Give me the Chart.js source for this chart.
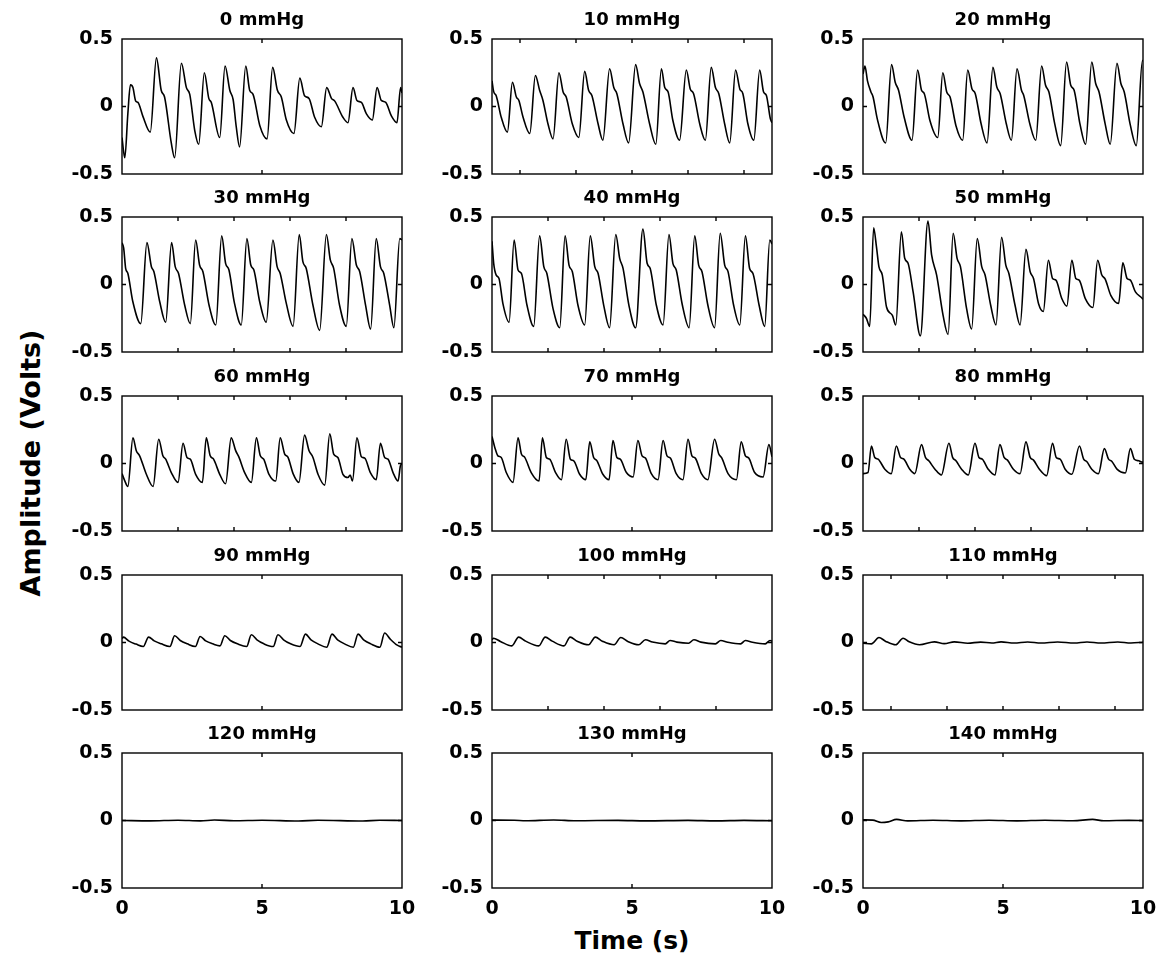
<!DOCTYPE html>
<html>
<head>
<meta charset="utf-8">
<script src="https://cdn.jsdelivr.net/npm/chart.js@4.4.0/dist/chart.umd.min.js"></script>
<style>
  body { margin: 0; background: #fff; width: 1158px; height: 958px; position: relative; overflow: hidden; font-family: "DejaVu Sans", sans-serif; }
  .panel { position: absolute; }
  #ylab { position: absolute; left: 30px; top: 463px; transform: translate(-50%, -50%) rotate(-90deg); font-weight: bold; font-size: 27px; white-space: nowrap; }
  #xlab { position: absolute; left: 632px; top: 940px; transform: translate(-50%, -50%); font-weight: bold; font-size: 25px; white-space: nowrap; }
</style>
</head>
<body>
<div id="ylab">Amplitude (Volts)</div>
<div id="xlab">Time (s)</div>
<script>
// cuff pressure of each panel (mmHg)
const pressures = [0, 10, 20, 30, 40, 50, 60, 70, 80, 90, 100, 110, 120, 130, 140];
const yTicks = [-0.5, 0, 0.5];
const xTickLabels = [0, 5, 10];
// inner tick marks along time axis, per panel
const innerTicks = [
  [5], [1, 3, 5, 7, 9], [5],
  [2, 4, 6, 8], [2, 4, 6, 8], [2, 4, 6, 8],
  [2, 4, 6, 8], [5], [2, 4, 6, 8],
  [5], [2, 4, 6, 8], [1, 3, 5, 7, 9],
  [5], [5], [5]
];

// [time s, volts]
const p0 = [[0,-0.23],[0.1,-0.38],[0.21,-0.05],[0.3,0.16],[0.39,0.14],[0.49,0.04],[0.57,0.03],[0.75,-0.075],[1.01,-0.19],
  [1.23,0.36],[1.4,0.12],[1.52,0.07],[1.76,-0.27],[1.88,-0.38],
  [2.12,0.32],[2.3,0.14],[2.42,0.09],[2.6,-0.18],[2.74,-0.28],
  [2.94,0.25],[3.1,0.06],[3.19,0.03],[3.49,-0.23],
  [3.68,0.3],[3.85,0.12],[3.97,0.05],[4.08,-0.15],[4.2,-0.3],
  [4.42,0.3],[4.56,0.12],[4.68,0.09],[4.92,-0.14],[5.18,-0.24],
  [5.38,0.29],[5.55,0.12],[5.69,0.07],[5.87,-0.1],[6.14,-0.2],
  [6.35,0.21],[6.52,0.08],[6.68,0.06],[6.88,-0.08],[7.12,-0.15],
  [7.31,0.14],[7.48,0.06],[7.6,0.04],[7.89,-0.08],[8.07,-0.12],
  [8.25,0.14],[8.39,0.045],[8.55,0.03],[8.73,-0.055],[8.94,-0.1],
  [9.11,0.14],[9.26,0.045],[9.42,0.03],[9.62,-0.07],[9.82,-0.12],[9.95,0.14],[10,0.1]];
const p10 = [[0,0.19],[0.06,0.11],[0.15,0.08],[0.33,-0.08],[0.55,-0.19],
  [0.73,0.18],[0.87,0.07],[0.96,0.045],[1.11,-0.08],[1.35,-0.2],
  [1.55,0.23],[1.7,0.12],[1.82,0.045],[2.0,-0.13],[2.18,-0.24],
  [2.39,0.25],[2.54,0.107],[2.65,0.07],[2.87,-0.13],[3.1,-0.23],
  [3.31,0.26],[3.45,0.12],[3.57,0.08],[3.79,-0.13],[3.96,-0.25],
  [4.2,0.28],[4.35,0.14],[4.46,0.095],[4.68,-0.13],[4.88,-0.27],
  [5.13,0.31],[5.27,0.17],[5.39,0.107],[5.63,-0.13],[5.85,-0.28],
  [6.05,0.28],[6.17,0.14],[6.29,0.107],[6.46,-0.104],[6.7,-0.25],
  [6.94,0.27],[7.08,0.13],[7.2,0.095],[7.42,-0.13],[7.62,-0.25],
  [7.83,0.29],[7.98,0.14],[8.1,0.095],[8.31,-0.13],[8.49,-0.27],
  [8.7,0.27],[8.85,0.13],[8.96,0.095],[9.14,-0.13],[9.35,-0.25],
  [9.56,0.27],[9.7,0.107],[9.8,0.082],[9.94,-0.09],[10,-0.12]];
const p20 = [[0,0.24],[0.07,0.3],[0.16,0.19],[0.28,0.11],[0.36,0.07],[0.51,-0.092],[0.81,-0.27],
  [1.02,0.31],[1.15,0.18],[1.27,0.12],[1.47,-0.08],[1.75,-0.25],
  [1.95,0.27],[2.09,0.12],[2.19,0.095],[2.39,-0.104],[2.67,-0.23],
  [2.85,0.25],[2.99,0.107],[3.11,0.07],[3.32,-0.142],[3.56,-0.25],
  [3.74,0.27],[3.89,0.132],[4.01,0.095],[4.22,-0.13],[4.43,-0.27],
  [4.64,0.29],[4.78,0.144],[4.9,0.095],[5.12,-0.13],[5.3,-0.25],
  [5.5,0.28],[5.66,0.12],[5.74,0.082],[5.96,-0.13],[6.17,-0.25],
  [6.38,0.3],[6.52,0.157],[6.64,0.107],[6.85,-0.13],[7.06,-0.29],
  [7.27,0.33],[7.42,0.157],[7.54,0.12],[7.75,-0.13],[7.95,-0.28],
  [8.17,0.33],[8.31,0.17],[8.43,0.107],[8.65,-0.13],[8.83,-0.28],
  [9.07,0.32],[9.21,0.17],[9.33,0.107],[9.55,-0.14],[9.76,-0.29],[9.98,0.34],[10,0.34]];
const p30 = [[0,0.31],[0.06,0.27],[0.13,0.12],[0.21,0.082],[0.39,-0.13],[0.67,-0.29],
  [0.89,0.31],[1.05,0.132],[1.14,0.095],[1.35,-0.13],[1.56,-0.28],
  [1.77,0.31],[1.9,0.132],[2.02,0.082],[2.24,-0.154],[2.44,-0.29],
  [2.63,0.33],[2.77,0.144],[2.89,0.095],[3.11,-0.154],[3.35,-0.3],
  [3.56,0.36],[3.7,0.157],[3.82,0.107],[4.02,-0.142],[4.26,-0.3],
  [4.46,0.34],[4.6,0.144],[4.71,0.107],[4.92,-0.13],[5.15,-0.28],
  [5.39,0.33],[5.54,0.132],[5.65,0.082],[5.87,-0.142],[6.11,-0.31],
  [6.33,0.37],[6.46,0.169],[6.58,0.119],[6.82,-0.154],[7.06,-0.34],
  [7.3,0.37],[7.44,0.182],[7.56,0.119],[7.77,-0.154],[8.01,-0.31],
  [8.21,0.34],[8.37,0.144],[8.49,0.095],[8.7,-0.154],[8.88,-0.33],
  [9.08,0.34],[9.23,0.132],[9.35,0.082],[9.56,-0.154],[9.71,-0.32],[9.92,0.34],[10,0.33]];
const p40 = [[0,0.32],[0.06,0.157],[0.15,0.07],[0.25,0.045],[0.39,-0.142],[0.61,-0.28],
  [0.79,0.33],[0.93,0.107],[1.05,0.082],[1.25,-0.154],[1.49,-0.31],
  [1.7,0.36],[1.85,0.132],[1.96,0.082],[2.18,-0.179],[2.42,-0.32],
  [2.61,0.36],[2.75,0.144],[2.87,0.095],[3.07,-0.154],[3.31,-0.3],
  [3.51,0.36],[3.67,0.132],[3.79,0.082],[3.99,-0.154],[4.2,-0.32],
  [4.42,0.37],[4.56,0.194],[4.68,0.119],[4.89,-0.154],[5.13,-0.32],
  [5.39,0.41],[5.54,0.157],[5.65,0.119],[5.87,-0.154],[6.11,-0.3],
  [6.32,0.37],[6.46,0.157],[6.58,0.107],[6.8,-0.154],[7.04,-0.32],
  [7.24,0.36],[7.38,0.144],[7.5,0.095],[7.71,-0.154],[7.95,-0.32],
  [8.15,0.38],[8.31,0.144],[8.43,0.095],[8.63,-0.154],[8.85,-0.3],
  [9.05,0.36],[9.2,0.119],[9.32,0.082],[9.54,-0.154],[9.74,-0.31],[9.92,0.33],[10,0.3]];
const p50 = [[0,-0.22],[0.12,-0.25],[0.24,-0.31],[0.38,0.42],[0.48,0.28],[0.57,0.13],[0.69,0.07],[0.84,-0.167],[1.05,-0.229],[1.17,-0.3],
  [1.37,0.39],[1.49,0.194],[1.61,0.157],[1.79,-0.055],[2.05,-0.38],
  [2.32,0.47],[2.45,0.219],[2.63,0.07],[2.86,-0.229],[3.04,-0.37],
  [3.22,0.38],[3.36,0.194],[3.48,0.132],[3.7,-0.179],[3.88,-0.33],
  [4.08,0.34],[4.24,0.132],[4.36,0.07],[4.56,-0.154],[4.75,-0.3],
  [4.95,0.35],[5.1,0.144],[5.21,0.082],[5.43,-0.154],[5.61,-0.3],
  [5.82,0.26],[5.97,0.095],[6.09,0.045],[6.27,-0.142],[6.44,-0.2],
  [6.62,0.18],[6.77,0.045],[6.89,0.032],[7.1,-0.104],[7.28,-0.16],
  [7.46,0.18],[7.6,0.045],[7.72,0.032],[7.94,-0.104],[8.21,-0.17],
  [8.38,0.18],[8.53,0.07],[8.65,0.04],[8.85,-0.08],[9.13,-0.14],
  [9.28,0.16],[9.43,0.045],[9.55,0.032],[9.73,-0.055],[9.96,-0.1],[10,-0.11]];
const p60 = [[0,-0.075],[0.1,-0.129],[0.21,-0.17],[0.39,0.19],[0.51,0.095],[0.63,0.057],[0.87,-0.08],[1.11,-0.17],
  [1.31,0.18],[1.46,0.057],[1.56,0.032],[1.76,-0.067],[2.0,-0.14],
  [2.18,0.15],[2.32,0.045],[2.44,0.032],[2.63,-0.08],[2.87,-0.14],
  [3.01,0.19],[3.15,0.057],[3.27,0.032],[3.49,-0.08],[3.7,-0.15],
  [3.9,0.19],[4.06,0.095],[4.18,0.045],[4.38,-0.067],[4.62,-0.14],
  [4.8,0.19],[4.94,0.057],[5.06,0.032],[5.25,-0.08],[5.49,-0.13],
  [5.65,0.19],[5.81,0.07],[5.93,0.045],[6.11,-0.075],[6.32,-0.14],
  [6.52,0.21],[6.68,0.095],[6.82,0.045],[7.0,-0.08],[7.24,-0.16],
  [7.42,0.22],[7.56,0.07],[7.71,0.045],[7.89,-0.08],[8.07,-0.104],[8.15,-0.085],[8.23,-0.13],
  [8.39,0.19],[8.55,0.05],[8.67,0.04],[8.87,-0.067],[9.08,-0.12],
  [9.23,0.15],[9.38,0.045],[9.5,0.032],[9.68,-0.067],[9.86,-0.13],[9.94,-0.02],[10,0.0]];
const p70 = [[0,0.2],[0.1,0.119],[0.21,0.057],[0.33,0.045],[0.51,-0.067],[0.75,-0.14],
  [0.93,0.19],[1.05,0.07],[1.17,0.045],[1.4,-0.067],[1.68,-0.13],
  [1.8,0.19],[1.94,0.045],[2.06,0.032],[2.27,-0.067],[2.48,-0.12],
  [2.65,0.18],[2.8,0.032],[2.92,0.02],[3.13,-0.08],[3.35,-0.12],
  [3.49,0.16],[3.63,0.045],[3.75,0.02],[3.96,-0.08],[4.18,-0.12],
  [4.32,0.17],[4.46,0.045],[4.58,0.032],[4.8,-0.067],[5.04,-0.1],
  [5.21,0.17],[5.36,0.057],[5.48,0.04],[5.69,-0.075],[5.93,-0.12],
  [6.11,0.17],[6.25,0.057],[6.37,0.04],[6.58,-0.075],[6.82,-0.12],
  [7.0,0.18],[7.14,0.057],[7.26,0.04],[7.48,-0.075],[7.71,-0.12],
  [7.95,0.18],[8.1,0.07],[8.21,0.04],[8.43,-0.075],[8.73,-0.12],
  [8.9,0.16],[9.05,0.057],[9.17,0.04],[9.38,-0.067],[9.68,-0.1],[9.89,0.14],[10,0.05]];
const p80 = [[0,-0.075],[0.18,-0.067],[0.3,0.13],[0.42,0.045],[0.54,0.032],[0.78,-0.042],[1.01,-0.075],
  [1.19,0.13],[1.34,0.045],[1.46,0.032],[1.67,-0.042],[1.85,-0.075],
  [2.09,0.14],[2.23,0.045],[2.35,0.02],[2.57,-0.042],[2.8,-0.085],
  [3.07,0.15],[3.2,0.045],[3.32,0.02],[3.52,-0.042],[3.76,-0.085],
  [4.0,0.15],[4.14,0.045],[4.26,0.032],[4.47,-0.042],[4.71,-0.085],
  [4.89,0.14],[5.04,0.045],[5.16,0.025],[5.37,-0.042],[5.61,-0.075],
  [5.82,0.16],[5.97,0.045],[6.09,0.025],[6.3,-0.042],[6.56,-0.09],
  [6.77,0.15],[6.9,0.045],[7.04,0.032],[7.22,-0.042],[7.46,-0.08],
  [7.73,0.13],[7.88,0.032],[7.99,0.015],[8.17,-0.042],[8.41,-0.075],
  [8.62,0.11],[8.77,0.032],[8.89,0.015],[9.07,-0.042],[9.37,-0.07],
  [9.55,0.11],[9.69,0.032],[9.85,0.02],[9.98,0.01],[10,0.01]];
const p90 = [[0,0.03],[0.05,0.04],[0.25,0.01],[0.5,-0.012],[0.76,-0.03],
  [0.95,0.04],[1.15,0.012],[1.4,-0.01],[1.71,-0.03],
  [1.88,0.05],[2.08,0.015],[2.33,-0.01],[2.62,-0.03],
  [2.79,0.045],[2.99,0.012],[3.24,-0.01],[3.5,-0.025],
  [3.67,0.05],[3.87,0.015],[4.12,-0.01],[4.45,-0.03],
  [4.62,0.057],[4.82,0.02],[5.07,-0.01],[5.4,-0.03],
  [5.57,0.057],[5.77,0.02],[6.02,-0.01],[6.36,-0.03],
  [6.55,0.062],[6.75,0.02],[7.0,-0.01],[7.31,-0.035],
  [7.5,0.062],[7.7,0.02],[7.95,-0.01],[8.26,-0.035],
  [8.43,0.062],[8.63,0.02],[8.88,-0.01],[9.21,-0.035],
  [9.38,0.07],[9.58,0.025],[9.83,-0.02],[10,-0.035]];
const p100 = [[0,0.02],[0.05,0.032],[0.3,0.008],[0.71,-0.025],
  [0.95,0.04],[1.2,0.01],[1.67,-0.025],
  [1.9,0.04],[2.15,0.01],[2.57,-0.025],
  [2.79,0.04],[3.04,0.01],[3.45,-0.017],
  [3.69,0.04],[3.94,0.01],[4.36,-0.017],
  [4.6,0.037],[4.85,0.008],[5.24,-0.017],
  [5.48,0.02],[5.73,0.003],[6.19,-0.01],
  [6.36,0.015],[6.6,0.003],[7.02,-0.005],
  [7.21,0.02],[7.46,0.003],[7.98,-0.01],
  [8.17,0.015],[8.42,0.002],[8.88,-0.01],
  [9.05,0.015],[9.3,0.002],[9.76,-0.01],
  [9.93,0.015],[10,0.01]];
const p110 = [[0,-0.005],[0.3,-0.01],[0.57,0.037],[0.8,0.01],[1.17,-0.017],[1.43,0.032],[1.65,0.005],[2.02,-0.017],
  [2.55,0.005],[2.9,-0.008],[3.26,0.005],[3.74,-0.005],[4.2,0.003],[4.6,-0.004],[4.93,0.005],[5.4,-0.004],
  [5.88,0.004],[6.36,-0.004],[6.95,0.004],[7.55,-0.004],[8.0,0.004],[8.5,-0.004],[9.1,0.004],[9.57,-0.004],[10,0.002]];
const p120 = [[0,0],[1.0,-0.003],[2.0,0.002],[2.8,-0.003],[3.3,0.004],[4.0,-0.002],[5.0,0.002],[6.3,-0.004],[7.0,0.002],[8.6,-0.004],[9.2,0.002],[10,0]];
const p130 = [[0,0.003],[0.8,0.002],[1.2,-0.002],[2.2,0.004],[3.0,-0.002],[4.5,0.001],[5.5,-0.003],[7.0,0.001],[8.0,-0.003],[9.0,0.001],[10,-0.002]];
const p140 = [[0,0.005],[0.35,0.003],[0.65,-0.015],[0.9,-0.01],[1.2,0.008],[1.6,-0.003],[2.5,0.002],[3.5,-0.003],[4.5,0.002],[5.5,-0.003],[6.5,0.002],[7.5,-0.002],[8.2,0.008],[8.6,-0.002],[9.5,0.001],[10,-0.001]];

const traces = [p0, p10, p20, p30, p40, p50, p60, p70, p80, p90, p100, p110, p120, p130, p140];

const colLeft = [122, 492, 863];
const rowTop = [39, 217, 396, 575, 753];
const plotW = 280, plotH = 135;
const padL = 80, padT = 35, padR = 14;
const FONT = 'DejaVu Sans';

Chart.defaults.font.family = FONT;
Chart.defaults.color = '#000';

// MATLAB-like box, inward tick marks and bold title
const boxPlugin = {
  id: 'box',
  afterDraw(chart, args, opts) {
    const { ctx, chartArea: a, scales: { x, y } } = chart;
    const tl = 4;
    ctx.save();
    ctx.strokeStyle = '#000';
    ctx.lineWidth = 1.4;
    ctx.strokeRect(a.left, a.top, a.right - a.left, a.bottom - a.top);
    ctx.beginPath();
    opts.ticks.forEach(t => {
      const px = x.getPixelForValue(t);
      ctx.moveTo(px, a.bottom); ctx.lineTo(px, a.bottom - tl);
      ctx.moveTo(px, a.top); ctx.lineTo(px, a.top + tl);
    });
    const py = y.getPixelForValue(0);
    ctx.moveTo(a.left, py); ctx.lineTo(a.left + tl, py);
    ctx.moveTo(a.right, py); ctx.lineTo(a.right - tl, py);
    ctx.stroke();
    ctx.fillStyle = '#000';
    ctx.font = 'bold 18px "' + FONT + '"';
    ctx.textAlign = 'center';
    ctx.textBaseline = 'middle';
    ctx.fillText(opts.title, (a.left + a.right) / 2, a.top - 19);
    ctx.restore();
  }
};

const noPad = s => { s.paddingLeft = 0; s.paddingRight = 0; s.paddingTop = 0; s.paddingBottom = 0; };

traces.forEach((pts, i) => {
  const r = Math.floor(i / 3), c = i % 3;
  const last = r === 4;
  const bottomH = last ? 48 : 14;

  const div = document.createElement('div');
  div.className = 'panel';
  div.style.left = (colLeft[c] - padL) + 'px';
  div.style.top = (rowTop[r] - padT) + 'px';
  div.style.width = (padL + plotW + padR) + 'px';
  div.style.height = (padT + plotH + bottomH) + 'px';
  const canvas = document.createElement('canvas');
  div.appendChild(canvas);
  document.body.appendChild(div);

  new Chart(canvas, {
    type: 'line',
    data: {
      datasets: [{
        data: pts.map(p => ({ x: p[0], y: p[1] })),
        borderColor: '#000',
        borderWidth: 1.6,
        pointRadius: 0,
        cubicInterpolationMode: 'monotone',
        fill: false
      }]
    },
    options: {
      responsive: true,
      maintainAspectRatio: false,
      animation: false,
      layout: { padding: { top: padT, right: padR, left: 0, bottom: last ? 0 : bottomH } },
      plugins: {
        legend: { display: false },
        tooltip: { enabled: false },
        box: { title: pressures[i] + ' mmHg', ticks: innerTicks[i] }
      },
      scales: {
        x: {
          type: 'linear', min: 0, max: 10,
          grid: { display: false, drawTicks: false },
          border: { display: false },
          afterBuildTicks: s => { s.ticks = xTickLabels.map(v => ({ value: v })); },
          ticks: { display: last, padding: 10, maxRotation: 0, font: { size: 19, weight: 'bold' } },
          afterFit: s => { s.height = last ? 48 : 0; noPad(s); }
        },
        y: {
          min: -0.5, max: 0.5,
          grid: { display: false, drawTicks: false },
          border: { display: false },
          afterBuildTicks: s => { s.ticks = yTicks.map(v => ({ value: v })); },
          ticks: { padding: 9, font: { size: 19, weight: 'bold' } },
          afterFit: s => { s.width = padL; noPad(s); }
        }
      }
    },
    plugins: [boxPlugin]
  });
});
</script>
</body>
</html>
